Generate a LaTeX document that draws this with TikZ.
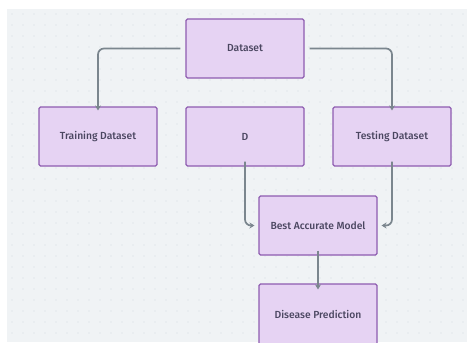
\documentclass[tikz,border=0pt]{standalone}
\usepackage{fontspec}
\setmainfont{Fira Sans}[BoldFont={* Medium}]
\usetikzlibrary{arrows.meta}
\definecolor{bg}{HTML}{F0F3F5}
\definecolor{dotc}{HTML}{D6DCE1}
\definecolor{boxfill}{HTML}{E6D3F3}
\definecolor{boxline}{HTML}{8E5CB0}
\definecolor{txt}{HTML}{4A4660}
\definecolor{arr}{HTML}{7B868E}
\tikzset{
  box/.style={draw=boxline, line width=1.1pt, fill=boxfill, rounded corners=1.5pt,
    minimum width=118pt, minimum height=59pt, inner sep=0pt,
    font=\fontsize{10.3}{12}\selectfont\bfseries, text=txt},
  conn/.style={draw=arr, line width=1.7pt, rounded corners=6pt,
    -{Stealth[length=5pt,width=6pt]}}
}
\begin{document}
\begin{tikzpicture}[x=1pt,y=-1pt]
\useasboundingbox (0,0) rectangle (470,342);
\clip (0,0) rectangle (470,342);
\fill[white] (0,0) rectangle (470,342);
\fill[bg] (7,9) rectangle (467,342);
\foreach \i in {0,...,41} {
  \foreach \j in {0,...,29} {
    \fill[dotc] (12+11*\i, 14+11*\j) circle (0.6pt);
  }
}
\node[box] (ds) at (245,48.5) {Dataset};
\node[box] (tr) at (98,136.5) {Training Dataset};
\node[box] (d) at (245,136.5) {D};
\node[box] (te) at (392,136.5) {Testing Dataset};
\node[box] (bm) at (318,225.5) {Best Accurate Model};
\node[box, minimum height=64pt, text depth=0pt] (dp) at (318,316) {\raisebox{2.5pt}{Disease Prediction}};
\draw[conn] ([xshift=-5pt]ds.west) -| ([yshift=-4pt]tr.north);
\draw[conn] ([xshift=5pt]ds.east) -| ([yshift=-4pt]te.north);
\draw[conn] ([yshift=5pt]d.south) |- ([xshift=-4pt]bm.west);
\draw[conn] ([yshift=5pt]te.south) |- ([xshift=4pt]bm.east);
\draw[conn] ([yshift=5pt]bm.south) -- ([yshift=-6pt]dp.north);
\end{tikzpicture}
\end{document}
